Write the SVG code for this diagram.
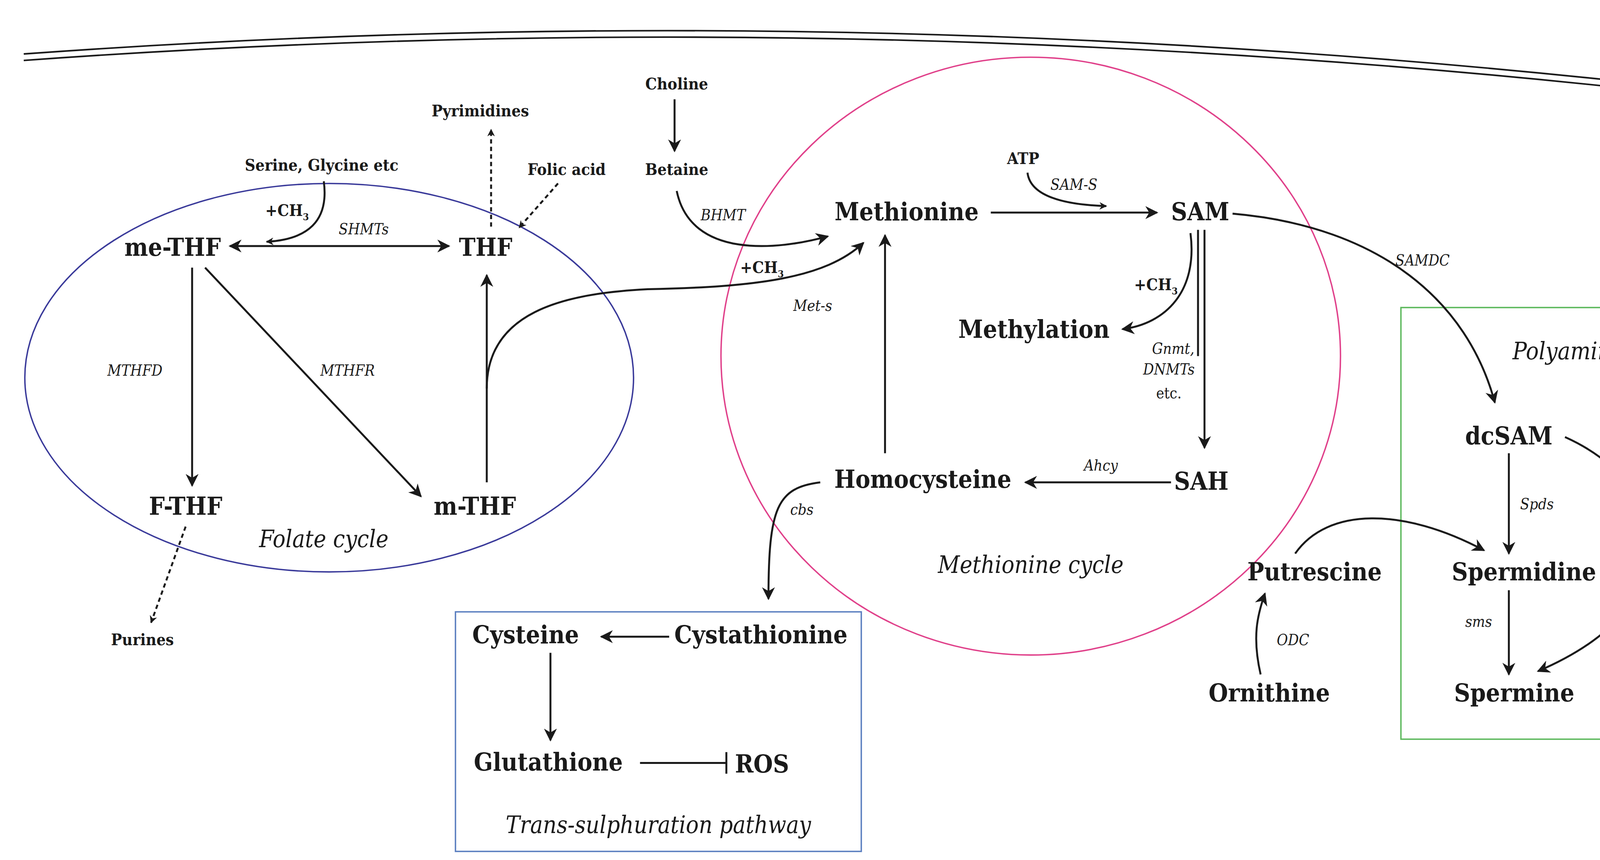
<svg xmlns="http://www.w3.org/2000/svg" width="4310" height="2202" viewBox="0 0 4310 2202">
<style>
text{font-family:"DejaVu Serif Condensed","DejaVu Serif","Liberation Serif",serif;font-stretch:condensed;fill:#1a1a1a;text-anchor:middle}
.b{font-weight:bold;font-size:15px}
.B{font-weight:bold;font-size:23px}
.i{font-style:italic;font-size:14px}
.I{font-style:italic;font-size:22px}
.s{font-size:9px}
.c{fill:none;stroke:#1a1a1a;stroke-width:1.8}
.d{stroke-dasharray:4 3}
</style>
<defs>
<marker id="a" viewBox="0 0 10 10" refX="9" refY="5" markerWidth="7" markerHeight="7" markerUnits="userSpaceOnUse" orient="auto-start-reverse"><path d="M0,0L10,5L0,10L3,5z" fill="#1a1a1a"/></marker>
<marker id="A" viewBox="0 0 10 10" refX="9" refY="5" markerWidth="12" markerHeight="12" markerUnits="userSpaceOnUse" orient="auto-start-reverse"><path d="M0,0L10,5L0,10L3,5z" fill="#1a1a1a"/></marker>
</defs>
<rect width="4310" height="2202" fill="#fff"/>
<g transform="scale(2.763)">
<g id="membrane" fill="none" stroke="#1a1a1a" stroke-width="1.5">
<path d="M22,50 Q780,-5 1545,80"/><path d="M22,56 Q780,1 1545,86"/>
</g>
<g id="compartments" fill="none" stroke-width="1.3">
<ellipse cx="305" cy="350" rx="282" ry="180" stroke="#3a3a9a"/>
<ellipse cx="955" cy="330" rx="287" ry="277" stroke="#e0408a"/>
<rect x="422" y="567" width="376" height="222" stroke="#5b7fc0"/>
<rect x="1298" y="285" width="248" height="400" stroke="#5cb85c"/>
</g>
<g id="connectors">
<path class="c d" d="M455,210L455,120" marker-end="url(#a)"/>
<path class="c d" d="M517,170L481,211" marker-end="url(#a)"/>
<path class="c" d="M213,228L416,228" marker-start="url(#A)" marker-end="url(#A)"/>
<path class="c" stroke-width="1" d="M300,168C305,205 285,222 247,224" marker-end="url(#a)"/>
<path class="c" d="M178,248L178,450" marker-end="url(#A)"/>
<path class="c" d="M190,248L390,460" marker-end="url(#A)"/>
<path class="c" d="M451,447L451,255" marker-end="url(#A)"/>
<path class="c" d="M451,360C451,290 520,272 600,268C700,266 765,258 800,225" marker-end="url(#A)"/>
<path class="c d" d="M172,488L140,577" marker-end="url(#a)"/>
<path class="c" d="M625,92L625,140" marker-end="url(#A)"/>
<path class="c" d="M627,177C640,240 720,232 767,219" marker-end="url(#A)"/>
<path class="c" d="M918,197L1072,197" marker-end="url(#A)"/>
<path class="c" stroke-width="1" d="M952,160C955,185 995,190 1025,191" marker-end="url(#a)"/>
<path class="c" d="M1110,213L1110,330M1116,213L1116,415" marker-end="url(#A)"/>
<path class="c" d="M1103,216C1110,270 1080,300 1040,305" marker-end="url(#A)"/>
<path class="c" d="M1142,198C1280,210 1360,280 1385,373" marker-end="url(#A)"/>
<path class="c" d="M1085,447L950,447" marker-end="url(#A)"/>
<path class="c" d="M820,420L820,218" marker-end="url(#A)"/>
<path class="c" d="M760,447C720,452 712,470 712,555" marker-end="url(#A)"/>
<path class="c" d="M620,590L557,590" marker-end="url(#A)"/>
<path class="c" d="M510,605L510,686" marker-end="url(#A)"/>
<path class="c" d="M593,707L673,707M673,697L673,717"/>
<path class="c" d="M1398,420L1398,513" marker-end="url(#A)"/>
<path class="c" d="M1450,405C1550,450 1570,560 1425,622" marker-end="url(#A)"/>
<path class="c" d="M1398,547L1398,625" marker-end="url(#A)"/>
<path class="c" d="M1200,513C1230,470 1300,470 1375,510" marker-end="url(#A)"/>
<path class="c" d="M1168,625C1160,590 1165,570 1172,550" marker-end="url(#A)"/>
</g>
<g id="folate">
<text class="b" x="445" y="108">Pyrimidines</text>
<text class="b" x="298" y="158">Serine, Glycine etc</text>
<text class="b" x="525" y="162">Folic acid</text>
<text class="B" x="160" y="237">me-THF</text>
<text class="B" x="450" y="237">THF</text>
<text class="B" x="172" y="477">F-THF</text>
<text class="B" x="440" y="477">m-THF</text>
<text class="I" x="300" y="507">Folate cycle</text>
<text class="b" x="266" y="200">+CH<tspan class="s" dy="4">3</tspan></text>
<text class="i" x="337" y="217">SHMTs</text>
<text class="i" x="125" y="348">MTHFD</text>
<text class="i" x="322" y="348">MTHFR</text>
<text class="b" x="132" y="598">Purines</text>
</g>
<g id="methionine">
<text class="b" x="627" y="83">Choline</text>
<text class="b" x="627" y="162">Betaine</text>
<text class="B" x="840" y="204">Methionine</text>
<text class="b" x="948" y="152">ATP</text>
<text class="i" x="995" y="176">SAM-S</text>
<text class="B" x="1112" y="204">SAM</text>
<text class="i" x="670" y="204">BHMT</text>
<text class="b" x="706" y="253">+CH<tspan class="s" dy="4">3</tspan></text>
<text class="i" x="753" y="288">Met-s</text>
<text class="b" x="1071" y="269">+CH<tspan class="s" dy="4">3</tspan></text>
<text class="B" x="958" y="313">Methylation</text>
<text class="i" x="1087" y="328">Gnmt,</text>
<text class="i" x="1083" y="347">DNMTs</text>
<text x="1083" y="369" font-size="14">etc.</text>
<text class="i" x="1318" y="246">SAMDC</text>
<text class="B" x="855" y="452">Homocysteine</text>
<text class="i" x="1020" y="436">Ahcy</text>
<text class="B" x="1113" y="454">SAH</text>
<text class="i" x="743" y="477">cbs</text>
<text class="I" x="955" y="531">Methionine cycle</text>
</g>
<g id="transsulphuration">
<text class="B" x="487" y="596" font-size="20">Cysteine</text>
<text class="B" x="705" y="596" font-size="20">Cystathionine</text>
<text class="B" x="508" y="714" font-size="20">Glutathione</text>
<text class="B" x="706" y="716">ROS</text>
<text class="I" x="610" y="772">Trans-sulphuration pathway</text>
</g>
<g id="polyamines">
<text class="I" x="1458" y="333">Polyamines</text>
<text class="B" x="1398" y="412">dcSAM</text>
<text class="i" x="1424" y="472">Spds</text>
<text class="B" x="1412" y="538">Spermidine</text>
<text class="i" x="1370" y="581">sms</text>
<text class="B" x="1403" y="650">Spermine</text>
<text class="B" x="1218" y="538" font-size="20">Putrescine</text>
<text class="i" x="1198" y="598">ODC</text>
<text class="B" x="1176" y="650" font-size="20">Ornithine</text>
</g>
</g>
</svg>
